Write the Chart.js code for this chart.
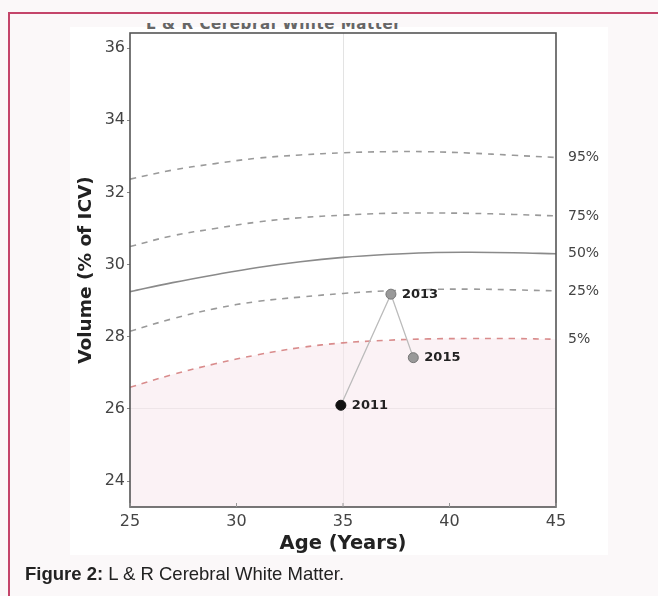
<!DOCTYPE html>
<html><head><meta charset="utf-8">
<script src="https://cdn.jsdelivr.net/npm/chart.js@4.4.1/dist/chart.umd.min.js"></script>
<style>
html,body{margin:0;padding:0;background:#fbf8f9;width:658px;height:596px;overflow:hidden;font-family:"Liberation Sans",Arial,sans-serif;}
#frame{position:absolute;left:8px;top:12px;width:700px;height:700px;border-left:2px solid #c4456a;border-top:2px solid #c4456a;}
#white{position:absolute;left:70px;top:27px;width:538px;height:528px;background:#fff;}
#titleclip{position:absolute;left:70px;top:23px;width:538px;height:6px;overflow:hidden;}
#titleclip div{position:absolute;left:76px;top:-8px;font:bold 15px "DejaVu Sans";color:#666;letter-spacing:0.6px;white-space:nowrap;}
#cap{position:absolute;left:25px;top:563px;font-size:18.5px;color:#222;}
canvas{position:absolute;left:0;top:0;}
</style></head>
<body>
<div id="frame"></div>
<div id="white"></div>
<div id="titleclip"><div>L &amp; R Cerebral White Matter</div></div>
<canvas id="c" width="658" height="596"></canvas>
<div id="cap"><b>Figure 2:</b> L &amp; R Cerebral White Matter.</div>
<script>
const ages = [25, 27, 29, 31, 33, 35, 37, 39, 41, 43, 45];
const p95 = [32.37, 32.62, 32.80, 32.95, 33.04, 33.10, 33.13, 33.13, 33.09, 33.03, 32.97];
const p75 = [30.50, 30.80, 31.00, 31.18, 31.30, 31.37, 31.42, 31.43, 31.42, 31.39, 31.35];
const p50 = [29.25, 29.50, 29.72, 29.92, 30.08, 30.20, 30.28, 30.33, 30.34, 30.33, 30.30];
const p25 = [28.15, 28.50, 28.78, 28.98, 29.10, 29.20, 29.27, 29.31, 29.32, 29.30, 29.27];
const p5  = [26.60, 26.95, 27.25, 27.50, 27.70, 27.83, 27.90, 27.94, 27.95, 27.95, 27.93];
const percentileLabels = ["95%", "75%", "50%", "25%", "5%"];
const visitYears = ["2011", "2013", "2015"];
const visitAges = [34.9, 37.25, 38.3];
const visitValues = [26.1, 29.18, 27.42];
const xTicks = [25, 30, 35, 40, 45];
const yTicks = [24, 26, 28, 30, 32, 34, 36];

const toXY = arr => arr.map((v, i) => ({x: ages[i], y: v}));
const dashed = (data, color) => ({type:'line', data: toXY(data), borderColor: color, borderWidth: 1.6, borderDash: [6, 6], pointRadius: 0, fill: false, tension: 0.4});

const curves = [p95, p75, p50, p25, p5];

const labelPlugin = {
  id: 'labels',
  afterDatasetsDraw(chart) {
    const {ctx, chartArea, scales: {x, y}} = chart;
    ctx.save();
    ctx.strokeStyle = '#555';
    ctx.lineWidth = 1.6;
    ctx.strokeRect(chartArea.left, chartArea.top, chartArea.right - chartArea.left, chartArea.bottom - chartArea.top);
    // small inward ticks on the bottom axis
    ctx.strokeStyle = '#999';
    ctx.lineWidth = 1;
    xTicks.forEach(v => {
      const px = x.getPixelForValue(v);
      ctx.beginPath(); ctx.moveTo(px, chartArea.bottom); ctx.lineTo(px, chartArea.bottom - 4); ctx.stroke();
    });
    ctx.font = '14px "DejaVu Sans"';
    ctx.fillStyle = '#444';
    ctx.textBaseline = 'middle';
    curves.forEach((c, i) => {
      ctx.fillText(percentileLabels[i], chartArea.right + 12, y.getPixelForValue(c[c.length - 1]));
    });
    ctx.font = 'bold 13px "DejaVu Sans"';
    ctx.fillStyle = '#222';
    visitYears.forEach((t, i) => {
      ctx.fillText(t, x.getPixelForValue(visitAges[i]) + 11, y.getPixelForValue(visitValues[i]));
    });
    ctx.restore();
  }
};

new Chart(document.getElementById('c'), {
  type: 'line',
  data: {
    datasets: [
      {type:'line', data: visitAges.map((a, i) => ({x: a, y: visitValues[i]})), borderColor: '#bbb', borderWidth: 1.3,
       pointRadius: 5, pointBackgroundColor: ['#111', '#999', '#999'], pointBorderColor: ['#111', '#777', '#777'], pointBorderWidth: 1, fill: false, tension: 0},
      dashed(p95, '#9a9a9a'),
      dashed(p75, '#9a9a9a'),
      {type:'line', data: toXY(p50), borderColor: '#8a8a8a', borderWidth: 1.6, pointRadius: 0, fill: false, tension: 0.4},
      dashed(p25, '#9a9a9a'),
      Object.assign(dashed(p5, '#d98c8c'), {fill: 'start', backgroundColor: 'rgba(248,232,236,0.55)'})
    ]
  },
  options: {
    responsive: false,
    animation: false,
    plugins: {legend: {display: false}, tooltip: {enabled: false}},
    layout: {padding: {left: 62, right: 102, top: 33, bottom: 39}},
    scales: {
      x: {
        type: 'linear', min: 25, max: 45,
        afterBuildTicks: s => { s.ticks = xTicks.map(v => ({value: v})); },
        afterFit: s => { s.height = 50; },
        grid: {drawTicks: false, color: c => c.tick && c.tick.value === 35 ? 'rgba(200,200,200,0.5)' : 'rgba(0,0,0,0)', drawOnChartArea: true},
        border: {display: false},
        ticks: {padding: 5, color: '#444', font: {family: 'DejaVu Sans', size: 16}},
        title: {display: true, text: 'Age (Years)', color: '#222', font: {family: 'DejaVu Sans', size: 19.5, weight: 'bold'}, padding: {top: 0, bottom: 1}}
      },
      y: {
        type: 'linear', min: 23.28, max: 36.42,
        afterBuildTicks: s => { s.ticks = yTicks.map(v => ({value: v})); },
        afterFit: s => { s.width = 68; },
        grid: {drawTicks: true, tickLength: 3, tickColor: '#888', color: c => c.tick && c.tick.value === 26 ? 'rgba(200,200,200,0.5)' : 'rgba(0,0,0,0)'},
        border: {display: false},
        ticks: {padding: 2, color: '#444', font: {family: 'DejaVu Sans', size: 16}},
        title: {display: true, text: 'Volume (% of ICV)', color: '#222', font: {family: 'DejaVu Sans', size: 18.5, weight: 'bold'}, padding: {top: 13, bottom: 0}}
      }
    }
  },
  plugins: [labelPlugin]
});
</script>
</body></html>
